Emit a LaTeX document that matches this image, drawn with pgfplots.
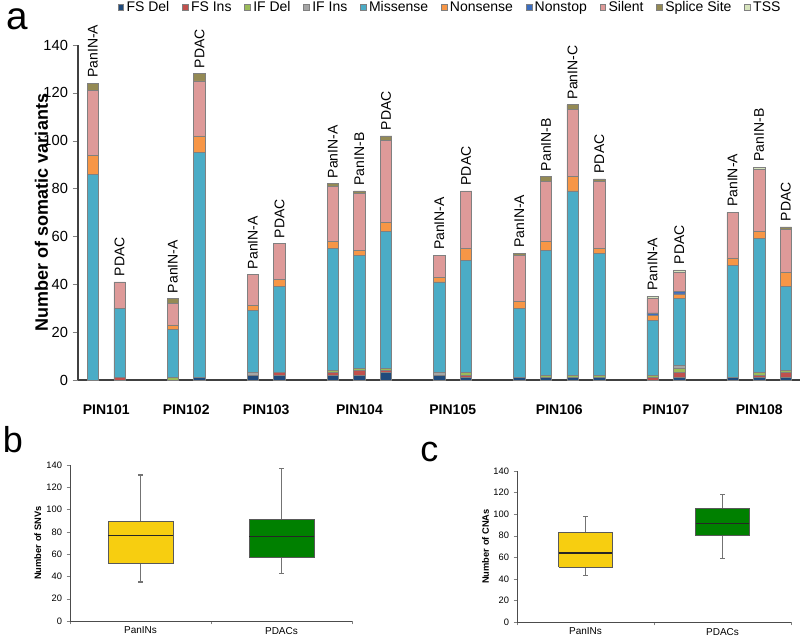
\documentclass[border=0pt]{standalone}
\usepackage{pgfplots}
\pgfplotsset{compat=1.18}
\usepackage{pgfplotstable}
\usepackage{fontspec}
\setmainfont{Liberation Sans}
\definecolor{cfsdel}{HTML}{1F4A7C}
\definecolor{cfsins}{HTML}{C0504D}
\definecolor{cifdel}{HTML}{9BBB59}
\definecolor{cifins}{HTML}{A5A5A5}
\definecolor{cmis}{HTML}{4BACC6}
\definecolor{cnon}{HTML}{F79646}
\definecolor{cnonstop}{HTML}{3C6EC0}
\definecolor{csil}{HTML}{DE9A99}
\definecolor{cspl}{HTML}{948A54}
\definecolor{ctss}{HTML}{D7E4BD}
\definecolor{cyel}{HTML}{F7CE10}
\definecolor{cgrn}{HTML}{008000}
\tikzset{barlab/.style={rotate=90,anchor=west,inner sep=0pt,font=\fontsize{10.5pt}{12pt}\selectfont}}
\pgfplotstableread{
x fsdel fsins ifdel ifins mis non nonstop sil spl tss
0 0 0 0 0 86 8 0 27 3 0
1 0 1 0 0 29 0 0 11 0 0
3 0 0 1 0 20 2 0 9 2 0
4 1 0 0 0 94 7 0 23 3 0
6 2 0 0 1 26 2 0 13 0 0
7 2 1 0 0 36 3 0 15 0 0
9 2 1 1 0 51 3 0 23 1 0
10 2 2 1 0 47 2 0 24 1 0
11 3 1 1 0 57 4 0 34 2 0
13 2 0 0 1 38 2 0 9 0 0
14 1 1 1 0 47 5 0 24 0 0
16 1 0 0 0 29 3 0 19 1 0
17 1 0 1 0 52 4 0 25 2 0
18 1 0 1 0 77 6 0 28 2 0
19 1 0 1 0 51 2 0 28 1 0
21 0 1 1 0 23 2 1 6 0 1
22 1 2 2 1 28 2 1 8 0 1
24 1 0 0 0 47 3 0 19 0 0
25 1 1 1 0 56 3 0 26 0 1
26 1 2 1 0 35 6 0 18 1 0
}\variants
\pgfplotsset{
  boxaxis/.style={
    scale only axis,
    xmin=0, xmax=2, ymin=0, ymax=140,
    axis x line=bottom, axis y line=left,
    axis line style={-, black!70, line width=0.6pt},
    ytick={0,20,...,140},
    /pgf/number format/assume math mode=true,
    tick label style={font=\fontsize{7pt}{8pt}\selectfont},
    tick align=outside, major tick length=2.5pt,
    xtick={0,1,2}, xticklabels={},
    extra x ticks={0.5,1.5}, extra x tick labels={PanINs,PDACs},
    extra x tick style={major tick length=0pt},
    x tick label style={font=\fontsize{7.5pt}{9pt}\selectfont, yshift=-1pt},
    ylabel style={font=\bfseries\fontsize{7pt}{8pt}\selectfont, anchor=south},
  },
  boxfill/.style={draw=black!65, line width=0.6pt, mark=none},
  whisk/.style={draw=black!55, line width=0.8pt, mark=none},
  med/.style={draw=black!85, line width=0.8pt, mark=none},
}
\begin{document}
\begin{tikzpicture}
\path[use as bounding box] (0,0) rectangle (600pt,479.25pt);
% panel letters
\node[anchor=base west,inner sep=0pt,text height=15pt,font=\fontsize{29pt}{29pt}\selectfont] at (5pt,457pt) {a};
\node[anchor=base west,inner sep=0pt,font=\fontsize{27pt}{27pt}\selectfont] at (2pt,139.5pt) {b};
\node[anchor=base west,inner sep=0pt,font=\fontsize{27pt}{27pt}\selectfont] at (315pt,132.75pt) {c};
% ---------------- panel a
\begin{axis}[
  at={(58.5pt,194.25pt)}, anchor=south west,
  scale only axis, width=541.5pt, height=251.25pt,
  ybar stacked, bar width=8.6pt,
  xmin=-0.56, xmax=26.53, ymin=0, ymax=140,
  axis x line=bottom, axis y line=left,
  axis line style={-, black!75, line width=0.8pt},
  ytick={0,20,...,140},
  y tick label style={font=\fontsize{11pt}{13pt}\selectfont},
  /pgf/number format/assume math mode=true,
  tick align=outside, major tick length=4pt,
  xtick={0.5,3.5,6.5,10,13.5,17.5,21.5,25},
  xticklabels={PIN101,PIN102,PIN103,PIN104,PIN105,PIN106,PIN107,PIN108},
  x tick label style={font=\bfseries\fontsize{10.5pt}{12pt}\selectfont, yshift=-11pt},
  x tick style={draw=none},
  ylabel={Number of somatic variants},
  ylabel style={font=\bfseries\fontsize{13.5pt}{15pt}\selectfont, at={(axis description cs:-0.035,0.5)}, anchor=south},
  every axis plot/.append style={draw=black!50, line width=0.5pt},
  legend columns=10,
  legend style={at={(axis description cs:0.977,1.112)}, anchor=east, draw=none, fill=none,
    font=\fontsize{10.5pt}{12pt}\selectfont, inner sep=0pt,
    /tikz/every even column/.append style={column sep=7.5pt}},
  legend image code/.code={\draw[#1,line width=0.4pt] (0pt,-2.2pt) rectangle (4.4pt,2.2pt);},
  clip=false,
]
\addplot[fill=cfsdel] table[x=x,y=fsdel]{\variants};
\addplot[fill=cfsins] table[x=x,y=fsins]{\variants};
\addplot[fill=cifdel] table[x=x,y=ifdel]{\variants};
\addplot[fill=cifins] table[x=x,y=ifins]{\variants};
\addplot[fill=cmis] table[x=x,y=mis]{\variants};
\addplot[fill=cnon] table[x=x,y=non]{\variants};
\addplot[fill=cnonstop] table[x=x,y=nonstop]{\variants};
\addplot[fill=csil] table[x=x,y=sil]{\variants};
\addplot[fill=cspl] table[x=x,y=spl]{\variants};
\addplot[fill=ctss] table[x=x,y=tss]{\variants};
\legend{FS Del,FS Ins,IF Del,IF Ins,Missense,Nonsense,Nonstop,Silent,Splice Site,TSS}
\foreach \px/\py/\lab in {0/124/PanIN-A,1/41/PDAC,3/34/PanIN-A,4/128/PDAC,6/44/PanIN-A,7/57/PDAC,9/82/PanIN-A,10/79/PanIN-B,11/102/PDAC,13/52/PanIN-A,14/79/PDAC,16/53/PanIN-A,17/85/PanIN-B,18/115/PanIN-C,19/84/PDAC,21/35/PanIN-A,22/46/PDAC,24/70/PanIN-A,25/89/PanIN-B,26/64/PDAC}{
  \edef\tmp{\noexpand\node[barlab] at ([yshift=4pt]axis cs:\px,\py) {\lab};}
  \tmp
}
\end{axis}
% ---------------- panel b
\begin{axis}[
  boxaxis,
  at={(52.5pt,13.5pt)}, anchor=south west,
  width=211.5pt, height=117pt,
  ylabel={Number of SNVs},
  ylabel style={at={(axis description cs:-0.085,0.5)}},
]
% PanINs: min 35, Q1 52, median 77, Q3 89, max 131
\addplot[whisk] coordinates {(0.5,89) (0.5,131)};
\addplot[whisk] coordinates {(0.5,35) (0.5,52)};
\addplot[whisk] coordinates {(0.485,131) (0.515,131)};
\addplot[whisk] coordinates {(0.485,35) (0.515,35)};
\addplot[boxfill, fill=cyel] coordinates {(0.27,52) (0.73,52) (0.73,89) (0.27,89) (0.27,52)};
\addplot[med] coordinates {(0.27,77) (0.73,77)};
% PDACs: min 43, Q1 57, median 76, Q3 91, max 137
\addplot[whisk] coordinates {(1.5,91) (1.5,137)};
\addplot[whisk] coordinates {(1.5,43) (1.5,57)};
\addplot[whisk] coordinates {(1.485,137) (1.515,137)};
\addplot[whisk] coordinates {(1.485,43) (1.515,43)};
\addplot[boxfill, fill=cgrn] coordinates {(1.27,57) (1.73,57) (1.73,91) (1.27,91) (1.27,57)};
\addplot[med] coordinates {(1.27,76) (1.73,76)};
\end{axis}
% ---------------- panel c
\begin{axis}[
  boxaxis,
  at={(387.75pt,12.75pt)}, anchor=south west,
  width=205.5pt, height=113.25pt,
  ylabel={Number of CNAs},
  ylabel style={at={(axis description cs:-0.085,0.5)}},
]
% PanINs: min 43, Q1 51, median 64, Q3 83, max 98
\addplot[whisk] coordinates {(0.5,83) (0.5,98)};
\addplot[whisk] coordinates {(0.5,43) (0.5,51)};
\addplot[whisk] coordinates {(0.485,98) (0.515,98)};
\addplot[whisk] coordinates {(0.485,43) (0.515,43)};
\addplot[boxfill, fill=cyel] coordinates {(0.305,51) (0.695,51) (0.695,83) (0.305,83) (0.305,51)};
\addplot[med] coordinates {(0.305,64) (0.695,64)};
% PDACs: min 59, Q1 80, median 91, Q3 105, max 118
\addplot[whisk] coordinates {(1.5,105) (1.5,118)};
\addplot[whisk] coordinates {(1.5,59) (1.5,80)};
\addplot[whisk] coordinates {(1.485,118) (1.515,118)};
\addplot[whisk] coordinates {(1.485,59) (1.515,59)};
\addplot[boxfill, fill=cgrn] coordinates {(1.305,80) (1.695,80) (1.695,105) (1.305,105) (1.305,80)};
\addplot[med] coordinates {(1.305,91) (1.695,91)};
\end{axis}
\end{tikzpicture}
\end{document}
